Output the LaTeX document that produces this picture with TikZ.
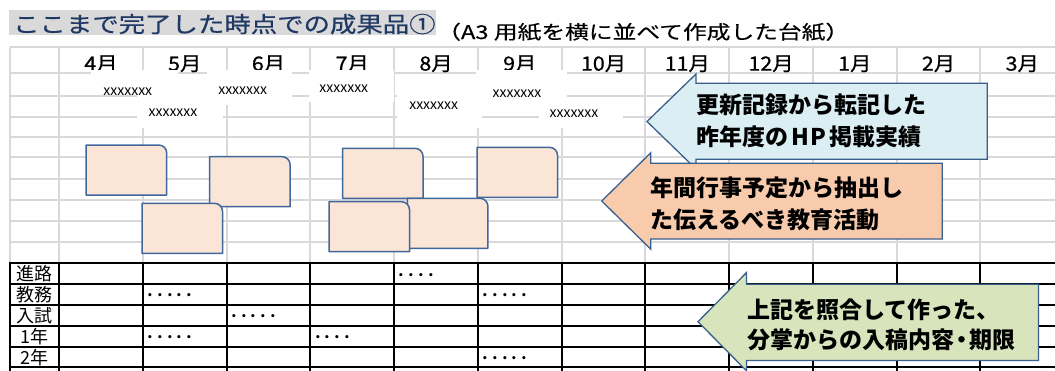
\documentclass[tikz,border=0pt]{standalone}
\usepackage{fontspec}
\newfontfamily\jp{Noto Sans CJK JP}
\newfontfamily\jptitle[FakeStretch=1.2,FakeBold=0.6]{Noto Sans CJK JP}
\newfontfamily\jpwide[FakeStretch=1.25,FakeBold=0.3]{Noto Sans CJK JP}
\newfontfamily\jpmon[FakeStretch=1.1,FakeBold=0.8]{Noto Sans CJK JP}
\definecolor{gridgrey}{HTML}{D9D9D9}
\definecolor{titlebg}{HTML}{D9D9D9}
\definecolor{titleblue}{HTML}{1F3864}
\definecolor{cardfill}{HTML}{FBE5D6}
\definecolor{cardline}{HTML}{41689C}
\definecolor{arrowline}{HTML}{3A5F8C}
\definecolor{bluefill}{HTML}{DAEEF3}
\definecolor{orangefill}{HTML}{F8CBAD}
\definecolor{greenfill}{HTML}{D8E4BC}
\begin{document}
\begin{tikzpicture}[x=1pt,y=-1pt,
  gridline/.style={draw=gridgrey, line width=2pt},
  tabline/.style={draw=black, line width=2pt},
  labelbg/.style={fill=white, draw=none},
  lbl/.style={font=\jp\fontsize{14}{14}\selectfont, inner sep=0pt, anchor=base},
  card/.style={fill=cardfill, draw=cardline, line width=1.5pt, line join=round},
  callout/.style={draw=arrowline, line width=1.3pt, line join=miter},
  calltext/.style={font=\jp\bfseries\fontsize{23}{23}\selectfont, inner sep=0pt, anchor=base west},
  month/.style={font=\jpmon\fontsize{19.5}{19.5}\selectfont, inner sep=0pt, anchor=base},
  rowlbl/.style={font=\jp\fontsize{18}{18}\selectfont, inner sep=0pt, anchor=base},
  dotstext/.style={font=\jp\fontsize{19.4}{19.4}\selectfont, inner sep=0pt, anchor=base west},
  titletext/.style={font=\jptitle\fontsize{22}{22}\selectfont, text=titleblue, inner sep=0pt, anchor=base west},
  subtext/.style={font=\jpwide\fontsize{19}{19}\selectfont, inner sep=0pt, anchor=base west}
]
\useasboundingbox (0,0) rectangle (1055,370);
\fill[white] (0,0) rectangle (1055,370);

% title
\fill[titlebg] (9,10) rectangle (436,35);
\node[titletext] (title) at (13,32.4) {ここまで完了した時点での成果品①};
\node[subtext] (subtitle) at (437,39) {（A3 用紙を横に並べて作成した台紙）};

% grey grid
\foreach \yy in {47.3,73.3,95.7,116.7,136.7,157.3,179,200,221,241.7}
  \draw[gridline] (10,\yy) -- (1055,\yy);
\draw[gridline] (10,47.3) -- (10,263.3);
\foreach \i in {0,...,11}
  \draw[gridline] ({59.2+83.75*\i},47.3) -- ({59.2+83.75*\i},263.3);

% month headers
\foreach \m [count=\i from 0] in {4,5,6,7,8,9,10,11,12,1,2,3}
  \node[month] (month\i) at ({59.2+83.75*(\i+0.5)},70.6) {\m{}月};

% white label backgrounds
\fill[labelbg] (91,70) rectangle (177.5,95);
\fill[labelbg] (137,95) rectangle (222.5,128);
\fill[labelbg] (207,70) rectangle (292.4,105);
\fill[labelbg] (309.3,70) rectangle (394,102);
\fill[labelbg] (397,92) rectangle (482,128);
\fill[labelbg] (476,70) rectangle (567,100);
\fill[labelbg] (538.5,100) rectangle (623,128);
\node[lbl] (x1) at (127.8,95.4) {xxxxxxx};
\node[lbl] (x2) at (173,116.4) {xxxxxxx};
\node[lbl] (x3) at (242.7,94.4) {xxxxxxx};
\node[lbl] (x4) at (343.8,92.7) {xxxxxxx};
\node[lbl] (x5) at (433.7,109.4) {xxxxxxx};
\node[lbl] (x6) at (517,97) {xxxxxxx};
\node[lbl] (x7) at (574,117.7) {xxxxxxx};

% cards
\foreach \cx/\cy in {86.2/145, 209.6/156.7, 142/203.3, 342.5/148.3, 407.4/198.3, 329/201.7, 477/147.3}
  \draw[card] (\cx,\cy+50) -- (\cx,\cy) -- (\cx+72.5,\cy) arc[start angle=-90,end angle=0,radius=8] -- (\cx+80.5,\cy+50) -- cycle;

% bottom table
\foreach \k in {0,...,5}
  \draw[tabline] (9,{263.3+20.8*\k}) -- (1055,{263.3+20.8*\k});
\draw[tabline] (10,262.3) -- (10,372);
\foreach \i in {0,...,11}
  \draw[tabline] ({59.2+83.75*\i},262.3) -- ({59.2+83.75*\i},372);
\foreach \r [count=\k from 0] in {進路,教務,入試,1年,2年}
  \node[rowlbl] (row\k) at (34.6,{263.3+20.8*(\k+0.5)+7.2}) {\r};

% dots
\foreach \c/\r/\t [count=\n] in {4/0/････, 1/1/･････, 5/1/･････, 2/2/･････, 1/3/･････, 3/3/････, 5/4/･････}
  \node[dotstext] (dots\n) at ({59.2+83.75*\c+2.5},{263.3+20.8*(\r+0.5)+8.4}) {\t};

% callouts
\draw[callout, fill=bluefill] (647,121.5) -- (696,74) -- (696,83.3) -- (987.3,83.3) -- (987.3,159.3) -- (696,159.3) -- (696,169) -- cycle;
\node[calltext] (b1) at (696,113.4) {更新記録から転記した};
\node[calltext] (b2) at (696,145.1) {昨年度の\kern3pt H\kern1.5pt P\kern3pt 掲載実績};

\draw[callout, fill=orangefill] (601.7,201) -- (650.8,152.7) -- (650.8,163.3) -- (942.3,163.3) -- (942.3,239) -- (650.8,239) -- (650.8,249.3) -- cycle;
\node[calltext] (o1) at (650,196.9) {年間行事予定から抽出し};
\node[calltext] (o2) at (650,228.6) {た伝えるべき教育活動};

\draw[callout, fill=greenfill] (698,321.7) -- (746.4,272.7) -- (746.4,284.3) -- (1038.5,284.3) -- (1038.5,360.5) -- (746.4,360.5) -- (746.4,370.7) -- cycle;
\node[calltext] (g1) at (747,318.7) {上記を照合して作った、};
\node[calltext] (g2) at (747,348.7) {分掌からの入稿内容\kern-4pt・\kern-4pt 期限};
\end{tikzpicture}
\end{document}
